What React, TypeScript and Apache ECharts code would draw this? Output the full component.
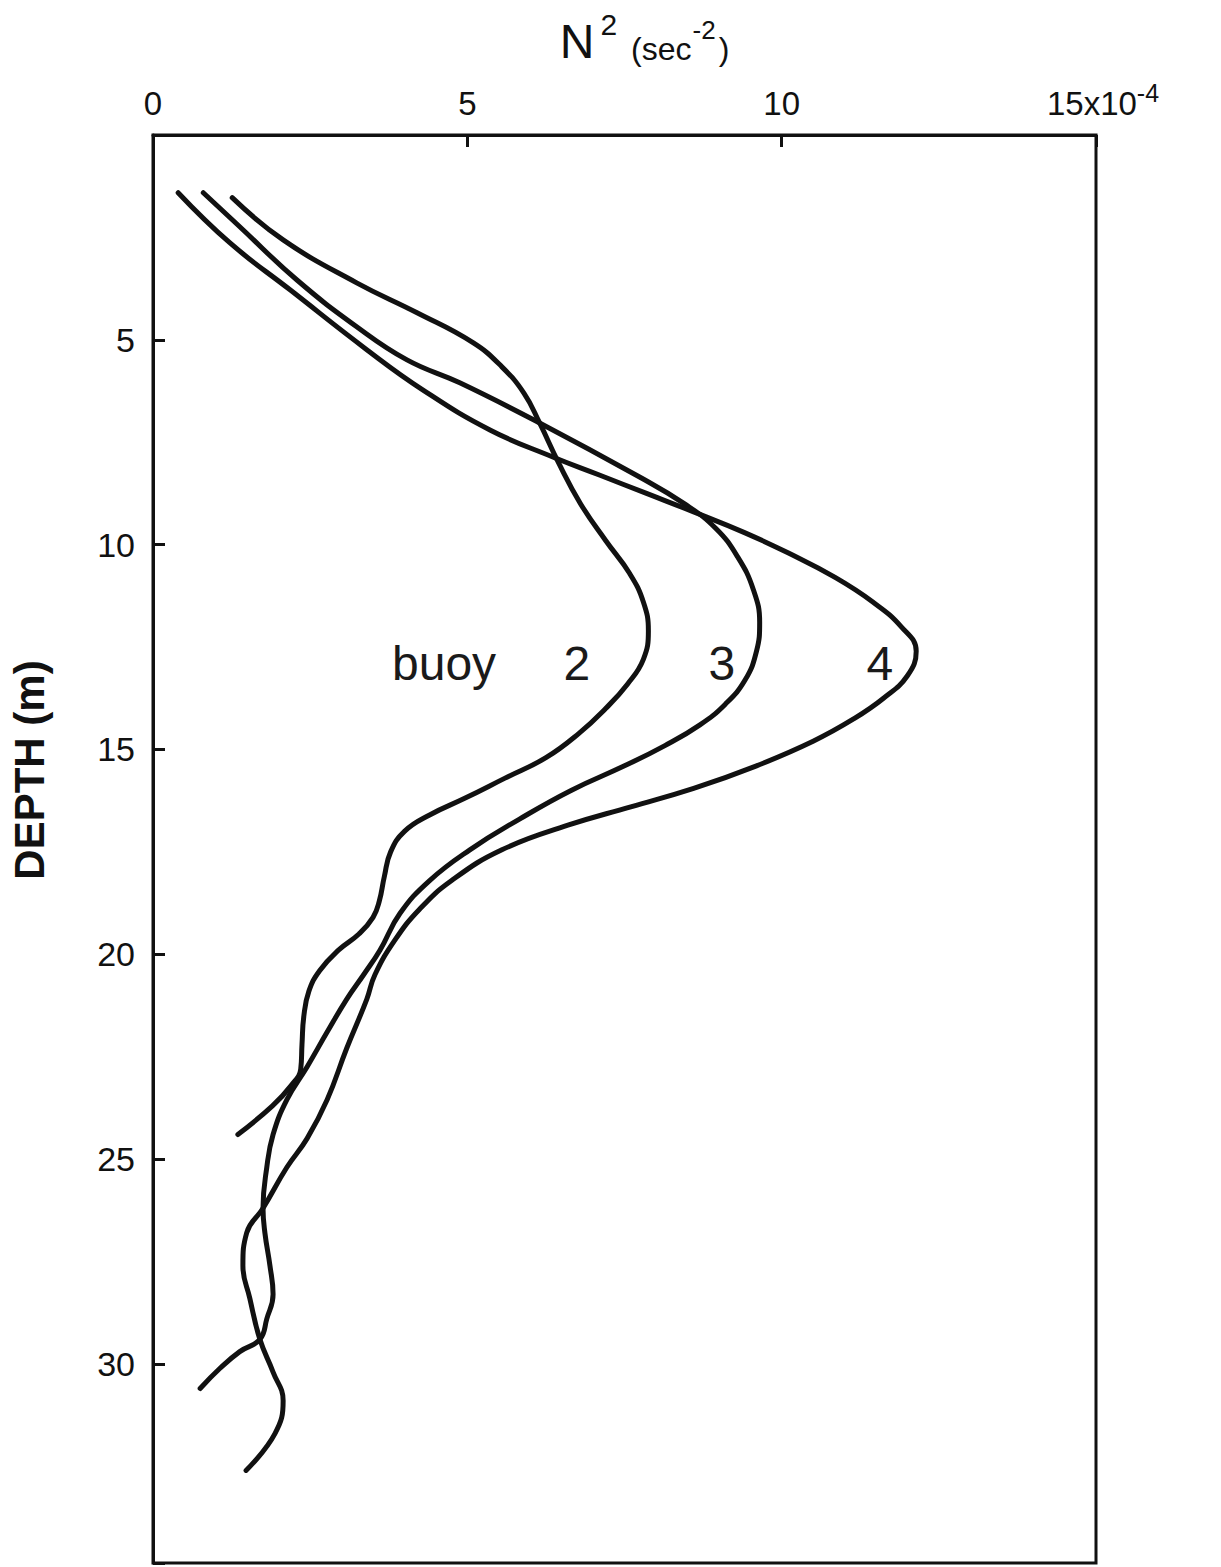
import React, { useEffect, useRef } from "react";
import * as echarts from "echarts";

// Depth (m) and N^2 (x10^-4 sec^-2)
const buoy2Depth = [1.53, 2.56, 3.61, 4.34, 5.07, 5.66, 6.3, 7.03, 8.0, 9.0, 9.9, 10.7, 11.4, 12.1, 12.8, 13.4, 14.0, 14.6, 15.2, 15.7, 16.2, 16.6, 17.0, 17.5, 18.1, 18.7, 19.1, 19.5, 19.9, 20.4, 20.9, 21.5, 22.2, 22.8, 23.2, 23.7, 24.4];
const buoy2N2 = [1.26, 2.07, 3.24, 4.2, 5.09, 5.55, 5.9, 6.15, 6.45, 6.8, 7.2, 7.58, 7.8, 7.88, 7.8, 7.55, 7.2, 6.78, 6.25, 5.6, 4.95, 4.4, 4.0, 3.78, 3.68, 3.6, 3.5, 3.28, 2.95, 2.65, 2.48, 2.4, 2.37, 2.35, 2.2, 1.9, 1.35];

const buoy3Depth = [1.41, 2.24, 3.54, 4.68, 5.49, 6.05, 7.03, 8.35, 9.0, 9.6, 10.3, 11.1, 11.9, 12.6, 13.3, 13.9, 14.4, 14.9, 15.4, 16.0, 16.7, 17.45, 18.2, 19.0, 19.9, 20.5, 21.1, 21.9, 22.75, 23.55, 24.4, 25.2, 26.2, 26.8, 27.6, 28.3, 28.9, 29.4, 29.7, 30.1, 30.6];
const buoy3N2 = [0.8, 1.38, 2.29, 3.24, 4.04, 4.88, 6.15, 7.74, 8.45, 8.95, 9.3, 9.55, 9.65, 9.6, 9.42, 9.1, 8.7, 8.15, 7.5, 6.65, 5.83, 5.04, 4.4, 3.93, 3.61, 3.35, 3.08, 2.77, 2.45, 2.13, 1.91, 1.81, 1.75, 1.78, 1.86, 1.91, 1.81, 1.7, 1.38, 1.07, 0.75];

const buoy4Depth = [1.41, 2.63, 3.78, 5.24, 6.22, 7.2, 7.86, 8.3, 8.75, 9.2, 9.7, 10.2, 10.8, 11.4, 12.0, 12.6, 13.2, 13.75, 14.25, 14.8, 15.4, 15.95, 16.4, 16.85, 17.45, 18.2, 18.9, 19.65, 20.5, 21.1, 22.3, 23.55, 24.5, 25.2, 26.2, 26.8, 27.6, 28.4, 29.4, 30.2, 30.9, 31.7, 32.6];
const buoy4N2 = [0.4, 1.22, 2.18, 3.4, 4.29, 5.36, 6.36, 7.1, 7.85, 8.6, 9.4, 10.1, 10.85, 11.45, 11.9, 12.14, 12.0, 11.62, 11.15, 10.5, 9.6, 8.6, 7.6, 6.6, 5.55, 4.75, 4.24, 3.85, 3.53, 3.4, 3.08, 2.77, 2.45, 2.13, 1.75, 1.49, 1.43, 1.54, 1.7, 1.91, 2.07, 1.94, 1.48];

const annotationText = ["buoy", "2", "3", "4"];
const annotationN2 = [4.63, 6.74, 9.05, 11.56];
const annotationDepth = [12.9, 12.9, 12.9, 12.9];

const xTicks = [0, 5, 10, 15];
const depthTicks = [5, 10, 15, 20, 25, 30];

const FONT = "'Liberation Sans', Arial, sans-serif";
const INK = "#111";

const pairs = (xs: number[], ys: number[]) => xs.map((x, i) => [x, ys[i]]);

export default function App() {
  const ref = useRef<HTMLDivElement>(null);
  useEffect(() => {
    const chart = echarts.init(ref.current!, null, { renderer: "svg" });
    const curve = (name: string, xs: number[], ys: number[]) => ({
      name,
      type: "line",
      smooth: 0.45,
      symbol: "none",
      data: pairs(xs, ys),
      lineStyle: { color: INK, width: 5, cap: "round", join: "round" },
      z: 3,
    });
    chart.setOption({
      animation: false,
      backgroundColor: "#fff",
      grid: {
        left: 153,
        right: 125,
        top: 135,
        bottom: 4,
        show: true,
        borderColor: INK,
        borderWidth: 3,
        backgroundColor: "transparent",
      },
      xAxis: {
        type: "value",
        position: "top",
        min: 0,
        max: 15,
        interval: 5,
        splitLine: { show: false },
        axisLine: { show: true, lineStyle: { color: INK, width: 3 } },
        axisTick: { show: true, inside: true, length: 12, lineStyle: { color: INK, width: 3 } },
        axisLabel: {
          margin: 15,
          color: INK,
          fontSize: 33,
          fontFamily: FONT,
          formatter: (v: number) =>
            xTicks.includes(v) ? (v === 15 ? "{a|15x10}{s|-4}" : String(v)) : "",
          rich: {
            a: { fontSize: 33, fontFamily: FONT, color: INK, padding: [0, 0, 0, 14], verticalAlign: "bottom", lineHeight: 40 },
            s: { fontSize: 25, fontFamily: FONT, color: INK, verticalAlign: "top", lineHeight: 25 },
          },
        },
        name: "{n|N}{p|2}{t|(sec}{q|-2}{u|)}",
        nameLocation: "middle",
        nameGap: 70,
        nameTextStyle: {
          padding: [0, 0, 0, 40],
          rich: {
            n: { fontSize: 48, fontFamily: FONT, color: INK, lineHeight: 56, verticalAlign: "bottom", padding: [0, 6, 0, 0] },
            p: { fontSize: 30, fontFamily: FONT, color: INK, lineHeight: 30, verticalAlign: "top", padding: [0, 14, 0, 0] },
            t: { fontSize: 32, fontFamily: FONT, color: INK, lineHeight: 36, verticalAlign: "bottom" },
            q: { fontSize: 26, fontFamily: FONT, color: INK, lineHeight: 26, verticalAlign: "top", padding: [8, 3, 0, 1] },
            u: { fontSize: 32, fontFamily: FONT, color: INK, lineHeight: 36, verticalAlign: "bottom" },
          },
        },
      },
      yAxis: {
        type: "value",
        inverse: true,
        min: 0,
        max: 34.86,
        interval: 5,
        splitLine: { show: false },
        axisLine: { show: true, lineStyle: { color: INK, width: 3 } },
        axisTick: { show: true, inside: true, length: 12, lineStyle: { color: INK, width: 3 } },
        axisLabel: {
          margin: 18,
          color: INK,
          fontSize: 34,
          fontFamily: FONT,
          showMinLabel: false,
          formatter: (v: number) => (depthTicks.includes(v) ? String(v) : ""),
        },
        name: "DEPTH (m)",
        nameLocation: "middle",
        nameGap: 103,
        nameTextStyle: {
          fontSize: 42,
          fontWeight: "bold",
          fontFamily: FONT,
          color: INK,
          padding: [0, 0, 0, 158],
        },
      },
      series: [
        curve("buoy 2", buoy2N2, buoy2Depth),
        curve("buoy 3", buoy3N2, buoy3Depth),
        curve("buoy 4", buoy4N2, buoy4Depth),
        {
          name: "labels",
          type: "scatter",
          symbolSize: 0,
          silent: true,
          itemStyle: { opacity: 1 },
          data: annotationText.map((t, i) => ({ name: t, value: [annotationN2[i], annotationDepth[i]] })),
          label: {
            show: true,
            position: "inside",
            formatter: "{b}",
            fontSize: 48,
            fontFamily: FONT,
            color: "#1a1a1a",
            opacity: 1,
          },
          emphasis: { disabled: true },
          z: 4,
        },
      ],
    });
    return () => chart.dispose();
  }, []);
  return (
    <div
      ref={ref}
      style={{ position: "absolute", left: 0, top: 0, width: 1221, height: 1567, background: "#fff" }}
    />
  );
}
